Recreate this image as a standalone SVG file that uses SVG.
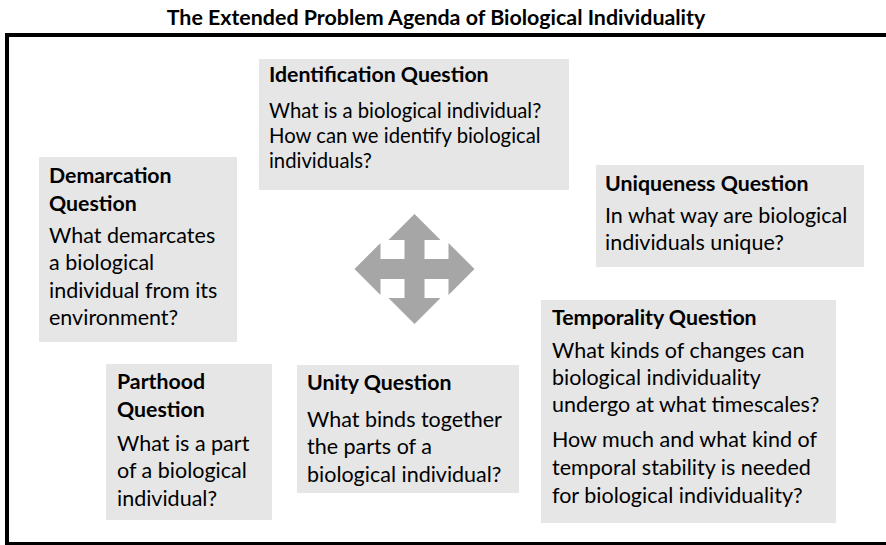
<svg xmlns="http://www.w3.org/2000/svg" width="886" height="545" viewBox="0 0 886 545">
<style>
.box{fill:#e6e6e6}
text{font-family:Lato,"Liberation Sans",sans-serif;fill:#000}
.h{font-weight:bold;font-size:21.3px}
.b{font-size:21.5px}
.bs{font-size:20.3px}
.title{font-weight:bold;font-size:21.4px}
</style>
<rect width="886" height="545" fill="#fff"/>
<text class="title" x="436" y="25" text-anchor="middle">The Extended Problem Agenda of Biological Individuality</text>
<rect x="7" y="35" width="890" height="509" fill="none" stroke="#000" stroke-width="4"/>
<g id="identification">
<rect class="box" x="259" y="59" width="310" height="131"/>
<text class="h" x="269" y="82">Identification Question</text>
<text class="bs" x="269" y="118">What is a biological individual?</text>
<text class="bs" x="269" y="143">How can we identify biological</text>
<text class="bs" x="269" y="168">individuals?</text>
</g>
<g id="demarcation">
<rect class="box" x="39" y="157" width="198" height="185"/>
<text class="h" x="49" y="183">Demarcation</text>
<text class="h" x="49" y="211">Question</text>
<text class="b" x="49" y="243">What demarcates</text>
<text class="b" x="49" y="270">a biological</text>
<text class="b" x="49" y="298">individual from its</text>
<text class="b" x="49" y="325">environment?</text>
</g>
<g id="uniqueness">
<rect class="box" x="596" y="165" width="268" height="102"/>
<text class="h" x="605" y="191">Uniqueness Question</text>
<text class="b" x="605" y="223">In what way are biological</text>
<text class="b" x="605" y="250">individuals unique?</text>
</g>
<g id="temporality">
<rect class="box" x="541" y="300" width="295" height="223"/>
<text class="h" x="552" y="325">Temporality Question</text>
<text class="b" x="552" y="358">What kinds of changes can</text>
<text class="b" x="552" y="385">biological individuality</text>
<text class="b" x="552" y="412">undergo at what timescales?</text>
<text class="b" x="552" y="447">How much and what kind of</text>
<text class="b" x="552" y="475">temporal stability is needed</text>
<text class="b" x="552" y="503">for biological individuality?</text>
</g>
<g id="parthood">
<rect class="box" x="106" y="364" width="166" height="156"/>
<text class="h" x="117" y="389">Parthood</text>
<text class="h" x="117" y="417">Question</text>
<text class="b" x="117" y="451">What is a part</text>
<text class="b" x="117" y="478">of a biological</text>
<text class="b" x="117" y="506">individual?</text>
</g>
<g id="unity">
<rect class="box" x="297" y="365" width="222" height="128"/>
<text class="h" x="307" y="390">Unity Question</text>
<text class="b" x="307" y="427">What binds together</text>
<text class="b" x="307" y="454">the parts of a</text>
<text class="b" x="307" y="482">biological individual?</text>
</g>
<g id="connectors">
<path id="four-way-arrow" fill="#a6a6a6" d="M414.5,214 L440.5,240 L424.5,240 L424.5,259 L448.5,259 L448.5,243 L474.5,269 L448.5,295 L448.5,279 L424.5,279 L424.5,298 L440.5,298 L414.5,324 L388.5,298 L404.5,298 L404.5,279 L380.5,279 L380.5,295 L354.5,269 L380.5,243 L380.5,259 L404.5,259 L404.5,240 L388.5,240 Z"/>
</g>
</svg>
